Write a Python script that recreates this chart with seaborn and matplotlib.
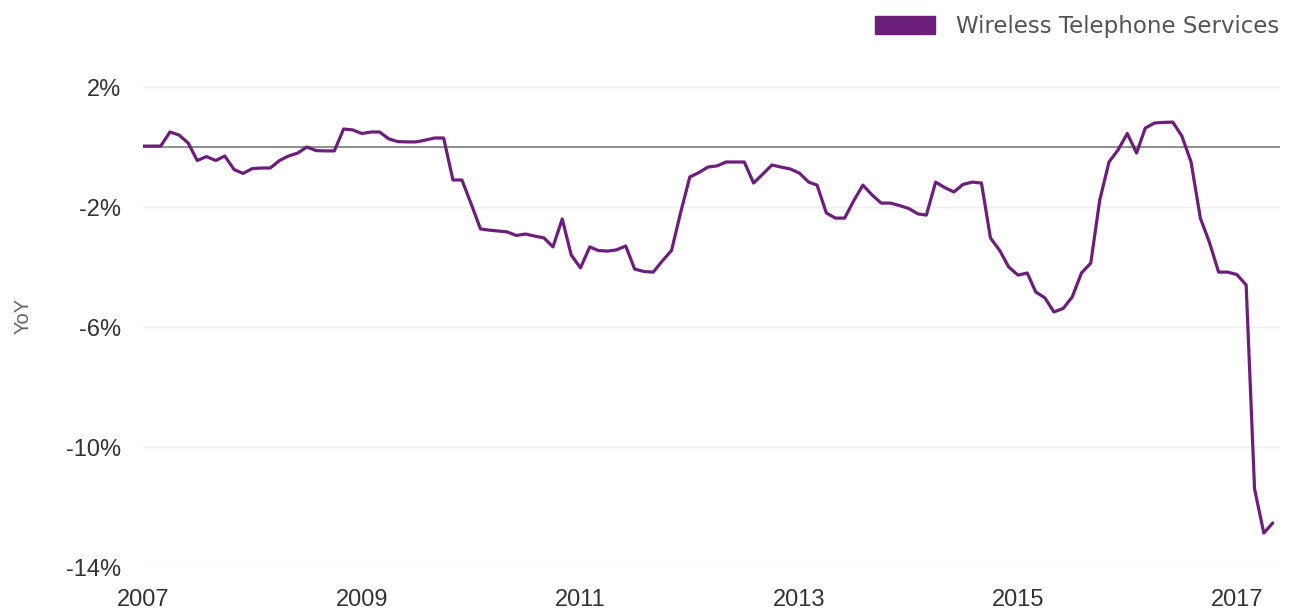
import seaborn as sns
import pandas as pd
import matplotlib.pyplot as plt
import matplotlib.dates as mdates
from matplotlib.patches import Patch

# monthly YoY change (%), Jan 2007 .. May 2017
start_month = '2007-01-01'
yoy = [
    0.03, 0.03, 0.03, 0.5, 0.4, 0.13, -0.45, -0.32, -0.45, -0.3, -0.75, -0.88,
    -0.72, -0.7, -0.7, -0.45, -0.3, -0.2, 0.0, -0.12, -0.13, -0.13, 0.6, 0.57,
    0.45, 0.5, 0.5, 0.27, 0.18, 0.17, 0.17, 0.23, 0.3, 0.3, -1.1, -1.1,
    -1.9, -2.73, -2.77, -2.8, -2.83, -2.95, -2.9, -2.97, -3.03, -3.33, -2.4, -3.6,
    -4.03, -3.33, -3.45, -3.47, -3.43, -3.3, -4.07, -4.15, -4.17, -3.8, -3.45, -2.2,
    -1.0, -0.85, -0.67, -0.63, -0.5, -0.5, -0.5, -1.2, -0.9, -0.6, -0.67, -0.73,
    -0.87, -1.17, -1.27, -2.2, -2.37, -2.37, -1.8, -1.27, -1.6, -1.87, -1.87, -1.95,
    -2.05, -2.23, -2.27, -1.17, -1.35, -1.5, -1.25, -1.17, -1.2, -3.03, -3.45, -4.0,
    -4.27, -4.2, -4.83, -5.03, -5.5, -5.38, -5.0, -4.2, -3.87, -1.77, -0.5, -0.1,
    0.45, -0.2, 0.63, 0.8, 0.82, 0.83, 0.37, -0.5, -2.37, -3.17, -4.17, -4.17,
    -4.25, -4.6, -11.4, -12.87, -12.53,
]
series_name = 'Wireless Telephone Services'
y_ticks = [2, -2, -6, -10, -14]
x_tick_years = [2007, 2009, 2011, 2013, 2015, 2017]

df = pd.DataFrame({
    'date': pd.date_range(start_month, periods=len(yoy), freq='MS'),
    'yoy': yoy,
})

purple = '#6b1f7b'

sns.set_theme(style='white')
plt.rcParams['font.family'] = ['Liberation Sans', 'DejaVu Sans']

fig = plt.figure(figsize=(12.9, 6.1), dpi=100)
ax = fig.add_axes([143 / 1290, 43 / 610, 1137 / 1290, 504 / 610])

sns.lineplot(data=df, x='date', y='yoy', color=purple, linewidth=2.3, ax=ax)
# zero reference line
ax.axhline(0, color='#7a7a7a', linewidth=1.2, zorder=1)

ax.set_ylim(-14, 2.8)
ax.set_xlim(pd.Timestamp('2007-01-01'), pd.Timestamp('2017-05-25'))
ax.set_yticks(y_ticks)
ax.set_yticklabels([f'{v}%' for v in y_ticks])
ax.set_xticks([pd.Timestamp(f'{y}-01-01') for y in x_tick_years])
ax.xaxis.set_major_formatter(mdates.DateFormatter('%Y'))

ax.grid(axis='y', color='#eeeeee', linewidth=1)
ax.grid(axis='x', visible=False)
for s in ax.spines.values():
    s.set_visible(False)
ax.tick_params(axis='both', length=0, labelsize=17, labelcolor='#333333', pad=16)

ax.set_xlabel('')
ax.set_ylabel('YoY', fontsize=14.5, color='#666666')
ax.yaxis.set_label_coords(33 / 1290, 1 - 316 / 610, transform=fig.transFigure)

handle = Patch(facecolor=purple, edgecolor=purple)
fig.legend([handle], [series_name], loc='center right',
           bbox_to_anchor=(1279 / 1290, 1 - 26 / 610), frameon=False,
           prop={'family': 'DejaVu Sans', 'size': 16.5}, labelcolor='#555555',
           handlelength=2.6, handleheight=0.83, handletextpad=0.92, borderpad=0,
           borderaxespad=0)

fig.savefig('out.png', dpi=100)
